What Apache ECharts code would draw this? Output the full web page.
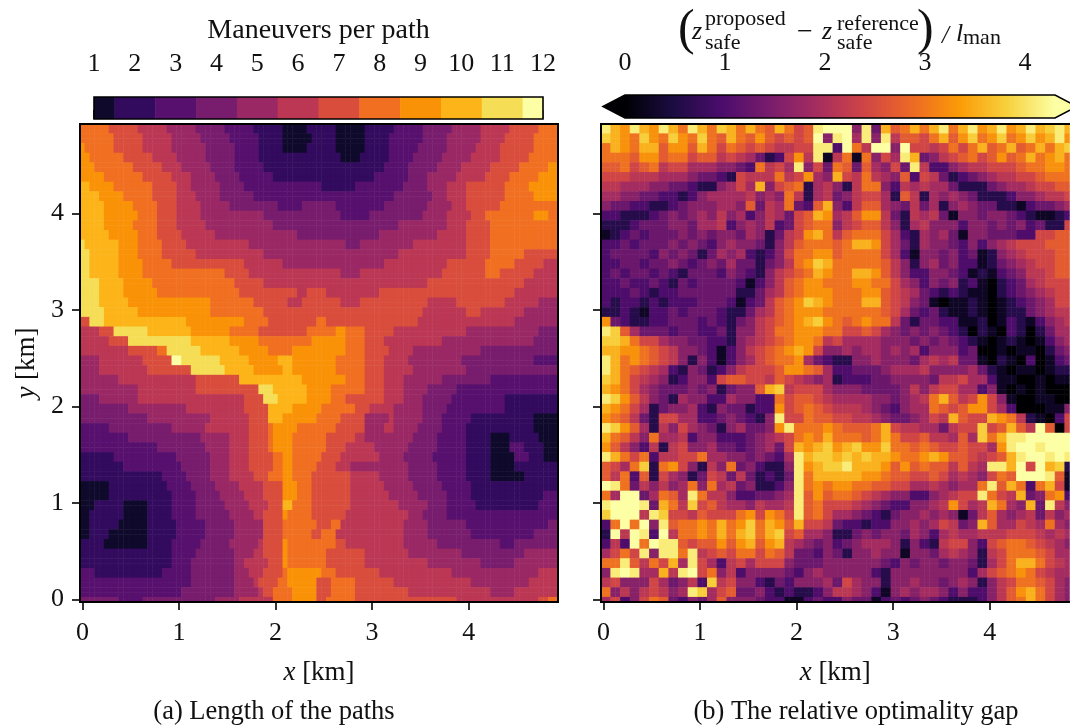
<!DOCTYPE html>
<html><head><meta charset="utf-8">
<style>html,body{margin:0;padding:0;background:#fff;overflow:hidden}#c{width:1070px;height:728px}</style>
<script src="https://cdn.jsdelivr.net/npm/echarts@6/dist/echarts.min.js"></script>
</head><body><div id="c"></div>
<script>
// (a) maneuvers per path: each row top to bottom, runs of level:endCell
const pathRuns = [
"8:6 7:12 6:18 5:24 4:30 3:36 2:42 1:47 2:53 1:59 2:65 3:71 4:77 5:83 6:89 7:95 8:99",
"8:7 7:13 6:19 5:25 4:31 3:37 2:42 1:48 2:53 1:59 2:64 3:71 4:76 5:83 6:88 7:94 8:99",
"9:1 8:7 7:13 6:19 5:26 4:32 3:37 2:42 1:47 2:53 1:59 2:64 3:70 4:76 5:82 6:87 7:94 8:99",
"9:2 8:9 7:15 6:20 5:26 4:32 3:37 2:54 1:58 2:64 3:69 4:75 5:81 6:87 7:93 8:99",
"9:3 8:11 7:17 6:21 5:27 4:32 3:38 2:63 3:68 4:74 5:79 6:85 7:91 8:97 9:99",
"9:5 8:13 7:19 6:23 5:28 4:33 3:40 2:61 3:68 4:72 5:78 6:84 7:89 8:95 9:99",
"a:2 9:7 8:15 7:20 6:23 5:29 4:34 3:50 2:57 3:67 4:72 5:76 6:80 7:88 8:93 9:99",
"a:4 9:9 8:15 7:20 6:24 5:29 4:36 3:65 4:73 5:76 6:80 7:88 8:94 9:99",
"a:5 9:11 8:16 7:20 6:25 5:31 4:41 3:46 4:53 3:63 4:72 5:77 6:80 7:87 8:99",
"a:5 9:12 8:16 7:20 6:25 5:38 4:54 3:60 4:71 5:76 6:81 7:84 8:94 9:97 8:99",
"a:5 9:11 8:16 7:20 6:26 5:40 4:66 5:76 6:80 7:85 8:99",
"a:6 9:12 8:16 7:21 6:28 5:45 4:62 5:74 6:80 7:85 8:99",
"b:1 a:8 9:12 8:17 7:22 6:35 5:55 4:58 5:69 6:80 7:85 8:99",
"b:2 a:8 9:12 8:17 7:24 6:38 5:66 6:80 7:85 8:92 7:99",
"b:2 a:8 9:13 8:19 7:34 6:42 5:63 6:76 7:84 8:90 7:96 6:99",
"b:2 a:8 9:13 8:30 7:35 6:54 5:58 6:75 7:84 8:87 7:94 6:99",
"b:4 a:9 9:15 8:32 7:38 6:72 7:92 6:99",
"b:4 a:9 9:16 8:33 7:45 6:47 7:51 6:62 7:90 6:99",
"b:4 a:10 9:27 8:36 7:43 6:46 7:54 6:58 7:72 6:78 7:88 6:95 5:99",
"b:5 a:12 9:27 8:38 7:71 6:80 7:83 6:92 5:99",
"7:2 b:5 a:22 9:34 8:39 7:49 8:51 7:70 6:90 5:99",
"6:4 7:7 b:14 a:23 9:31 8:37 7:47 8:53 9:55 8:59 7:65 6:80 5:95 4:99",
"6:6 7:10 b:23 a:31 9:37 8:48 9:55 8:59 7:63 6:75 5:94 4:99",
"6:10 7:16 8:18 b:25 a:33 9:39 8:44 9:55 8:59 7:64 6:69 5:83 4:99",
"5:4 6:13 7:19 c:21 b:29 a:35 9:41 a:44 9:53 8:59 7:63 6:68 5:79 4:94 3:99",
"5:4 6:14 7:23 b:30 a:36 9:42 a:44 9:53 8:59 7:63 6:69 5:80 4:99",
"5:8 6:24 7:33 a:46 9:55 8:59 7:63 6:67 5:75 4:85 3:99",
"5:12 6:24 7:37 b:40 a:47 9:52 8:59 7:63 6:67 5:72 4:78 3:99",
"4:4 5:12 6:34 7:38 b:41 a:47 9:52 8:55 7:63 6:67 5:71 4:77 3:88 2:99",
"4:10 5:22 6:34 7:39 a:44 9:50 8:57 7:60 6:65 5:71 4:76 3:88 2:99",
"4:14 5:27 6:35 7:39 a:42 9:49 8:54 7:59 5:64 6:65 5:71 4:75 3:81 2:94 1:99",
"3:6 4:19 5:26 6:35 7:39 8:40 9:45 8:53 7:59 5:63 6:65 5:70 4:75 3:80 2:94 1:99",
"3:10 4:25 5:31 6:35 7:39 8:40 9:44 8:51 7:57 6:59 5:69 4:74 3:80 2:85 1:89 2:95 1:99",
"3:16 4:26 5:31 6:35 7:39 8:40 9:44 8:51 7:55 6:61 5:68 4:74 3:80 2:85 1:89 3:92 2:96 1:99",
"2:7 3:20 4:27 5:31 6:35 7:40 8:42 9:44 8:50 7:54 6:62 5:67 4:73 3:80 2:85 1:90 3:93 2:96 1:99",
"2:9 3:21 4:27 5:31 6:35 7:40 8:42 9:44 8:49 7:53 6:56 5:68 4:74 3:80 2:85 1:90 2:99",
"2:17 3:22 4:27 5:31 6:36 7:39 8:42 9:44 8:48 7:56 6:62 5:68 4:74 3:80 2:85 1:92 2:99",
"1:6 2:18 3:23 4:28 5:33 6:38 7:42 9:45 8:48 7:56 6:63 5:69 4:75 3:81 2:99",
"1:6 2:19 3:24 4:29 5:34 6:38 7:42 9:45 8:48 7:56 6:64 5:70 4:76 3:81 2:96 3:99",
"1:3 2:9 1:14 2:19 3:24 4:30 5:35 6:39 7:42 a:44 8:48 7:56 6:66 5:72 4:76 3:82 2:95 3:99",
"1:2 2:9 1:14 2:19 3:24 4:31 5:36 6:38 7:42 9:43 8:48 7:55 6:68 5:71 4:76 3:99",
"1:2 2:8 1:14 2:20 3:26 4:32 5:38 7:42 8:49 7:52 8:54 6:67 5:72 4:80 3:97 4:99",
"1:2 2:6 1:14 2:20 3:26 4:32 5:38 7:42 8:48 7:50 8:53 6:67 5:72 4:81 3:94 4:99",
"2:5 1:14 2:19 3:25 4:31 5:37 6:38 7:42 9:43 8:53 7:55 6:67 5:74 4:87 3:90 4:99",
"2:19 3:24 4:32 5:36 6:38 7:42 9:43 8:51 7:59 6:68 5:79 4:92 5:99",
"2:19 3:23 4:32 5:34 6:39 7:42 9:43 8:51 7:59 6:72 5:83 4:90 5:99",
"3:3 2:17 3:23 4:32 5:35 6:38 7:42 8:43 9:50 8:53 7:62 6:77 5:95 6:99",
"3:23 4:32 5:36 6:37 7:41 8:43 9:49 7:52 8:57 7:65 6:81 5:93 6:99",
"3:21 4:32 5:37 6:38 7:40 8:44 9:49 7:52 8:57 7:68 6:85 5:90 6:99",
"4:8 3:13 4:28 5:33 6:40 8:44 9:49 7:51 8:57 7:78 6:95 7:97 8:99"
];
// (b) optimality gap: rows top to bottom, one digit per two cells; digit → value by gapLevels
const gapLevels = [0,0.25,0.6,1.0,1.3,1.6,1.9,2.15,2.4,2.7,2.95,3.25,3.55,3.8,4.1,4.35];
const gapRows = [
"ecbecbecaecadcaca9ca89ef ff5e4c9acaceacebcebcecdec",
"dcbadbadbada9ca9b98989f5 ef6e5e7998ac9bdabdabdbceb",
"acbacc9bb9ca8a9898778 8ee3 fa7ff5f8878a8ac9ac9acacda",
"aaa9bb9aa899787642 38b7e1 7a1a586ec45789a89b9acabca",
"99a89a788666554 3a786e584 a9496584e73356778889aabba",
"888777666544328777a78b65 c87a7659387423456778 89aaa",
"776665544322568 6c589a267 527aa53767664222456678899",
"665544332356666756 5a7267 4578862972656542223556778",
"544332234555665 94 76a439c 5379965474625654422134456",
"332223454565756 357 64 89cb 679bb74276741554554321123",
"222344455466735657348 9aa 5789975267555355454534228",
"12343444545455465 2478bca 79aaa86326564155444338899",
"334344454543565542 579aaa 9accb8642655435356788 8999",
"344443545424656323 58aabb 9aaaa86315545341256788899",
"334434454345464 42457abdc aaaaa97525645331245678899",
"343443432444354325 789acb aaccb97533554312134577899",
"33433432434444313579abba aabbaa86535452310234678 88",
"333432334444442246 79abbb aaabb98764323211023456788",
"323323233344 4313479abdcb aaacc98754101121012345688",
"2232133434443 22467 9abbba aaaaa98643 42112101224 5677",
"b43223344 43432457 89abcdb a9abaa74244331 1201321 3567",
"ed96444344334 255 78aabbba a889865454543202 1032 02466",
"ddca886554433 25 6789abba7 866665554 5454321012101 356",
"ccbba98755431 357 89abcb85 5656656563555340 0101102 45",
"ecaba98752531 3568 9aab643 2255655546767441 0210301 34",
"eca98763254235 7888 9bba96 33444566675555642101101 22",
"dca87652355389 9887 98765 6 233344555 5477866 31 1001 011",
"cba86544 454524 559cd78886 55544445757886635 10101000",
"edb97542655336 55 33a89987 6666554567ac978 b851001100",
"cba8624556325 44233b89a98 77765435 66a989bb863000115",
"ba9742886633 454325e88a99 8877654456 87c988cba72103 8",
"edb96275865425 64 45bea aab a9 99ac877 664788d89c97f908",
"ca975a66735533 3456 78aba c aaa9aca88 977696dacee fffff",
"b975372785564 4345 648cbcd bcdbbdaa9a98898 86beff efff",
"eca8a37788a66 5545 436ecdd cdcdccbaabcb99878 9cef fefe",
"986ad2ab85275 a4532 25ebcd decccb9b9a99797 6eecf8fcd2",
"97a392865248 747423 24eacc cccbba99889 8676 58a9fffe91",
"fea475756a5a 674522 35eaba bbaa99886 6765 66ae9ca3ac81",
"a6ff46a96ea7 75334 456e9b9 aa987655335 678 8ea87c45ab3",
"efffe4ca7d89 7665 7667e9a8 887654335567 b867ca65c4e75",
"dfff7ed8879 888ab8ba8e9a8 6654324556565 147965 674756",
"3afaf5e9aaba cabdacb9c887 433233 556568745 c966876a65",
"2f7fe3f7aaba cacdacd89665 224545 546536766 7778887676",
"373fafee9899 b9bc9bc76545 3456665 25 3278853 89aa98765",
"68a8e5eeae78 98aa8a9744354 2556 5 5 1 5 5 4 6 7 6 5 2 7 8 a a a 9 8 6 6",
"aae97a8c6e86 3786888 5444 5 55555 43 5 4 5 5 4 5 5 4 2 6 8 a c c a 8 7 6",
"5efe66c7ef8a 5735555 4356 5 55553 25 5 5 5 5 5 5 5 3 6 8 9 a b a 8 7 6",
"785558645 73d 785 5 3 2 4 3 5 5 5 6 4 8 6 5 5 2 5 5 6 5 5 4 5 6 5 2 5 7 8 a a 9 8 6 5",
"a57578756 ed68 9 4 4 5 3 2 3 2 2 3 5 7 7 6 5 3 1 5 6 5 6 6 5 3 5 3 3 5 7 9 b c a 8 6 5",
"6835 8a943 5 4 6 9 5 5 5 4 3 3 1 1 3 4 3 3 5 4 4 1 3 4 3 4 5 4 3 2 2 2 3 5 7 9 a c a 8 6 5"
];
const pathLevels = [1,2,3,4,5,6,7,8,9,10,11,12];
const pathColors = ['#0f0a2c','#320a5e','#57106e','#781c6d','#9a2865','#bb3754','#d94d3d','#f06f21','#fa9207','#fcb419','#f5de55','#fcffa4'];
const inferno = ['#000004','#1b0c41','#4a0c6b','#781c6d','#a52c60','#cf4446','#ed6925','#fb9b06','#f7d13d','#fcffa4'];
const kmTicks = [0,1,2,3,4];
const gapTicks = [0,1,2,3,4];
const gapMax = 4.3, gapExtend = 0.22;
const CELLS = 99, GAP_COLS = 97, PER_KM = 20;

const F = 'Liberation Serif';
const cats = n => Array.from({length:n},(_,i)=>i);
const pathData = [];
for (let t=0;t<CELLS;t++){
  const runs = pathRuns[Math.min(t>>1,pathRuns.length-1)].split(' ').map(s=>s.split(':'));
  let k=0;
  for (let f=0;f<CELLS;f++){
    while(k<runs.length-1 && f>=+runs[k][1]) k++;
    pathData.push([f,CELLS-1-t,parseInt(runs[k][0],16)]);
  }
}
const gapData = [];
for (let t=0;t<CELLS;t++){
  const row = gapRows[Math.min(t>>1,gapRows.length-1)].replace(/\s/g,'');
  for (let f=0;f<GAP_COLS;f++){
    const ch = row[Math.min(f>>1,row.length-1)];
    gapData.push([f,CELLS-1-t,gapLevels[parseInt(ch,16)]]);
  }
}
const pathSegments = pathLevels.map(v=>[Math.max(1,v-0.5),Math.min(12,v+0.5),v]);

const tickLabel = {fontFamily:F,fontSize:26,color:'#111'};
const nameStyle = {fontFamily:F,fontSize:27,color:'#111',rich:{i:{fontFamily:F,fontSize:27,fontStyle:'italic',color:'#111'}}};
const kmX = (idx,labels)=>({type:'category',gridIndex:idx,data:cats(labels),position:'bottom',
  axisLine:{show:false},axisTick:{show:true,alignWithLabel:true,interval:PER_KM-1,length:8,lineStyle:{color:'#000',width:1.6}},
  axisLabel:{show:true,interval:PER_KM-1,margin:18,formatter:v=>String(kmTicks[v/PER_KM]),...tickLabel},splitLine:{show:false},
  name:'{i|x} [km]',nameLocation:'middle',nameGap:57,nameTextStyle:nameStyle});
const kmY = (idx,showLabel)=>({type:'category',gridIndex:idx,data:cats(CELLS),
  axisLine:{show:false},axisTick:{show:true,alignWithLabel:true,interval:PER_KM-1,length:8,lineStyle:{color:'#000',width:1.6}},
  axisLabel:{show:showLabel,interval:PER_KM-1,margin:16,formatter:v=>String(kmTicks[v/PER_KM]),...tickLabel},splitLine:{show:false},
  ...(showLabel?{name:'{i|y} [km]',nameLocation:'middle',nameGap:40,nameRotate:90,nameTextStyle:nameStyle}:{})});

const txt=(x,y,text,size,extra)=>({type:'text',x,y,silent:true,z:50,style:Object.assign({text,fontFamily:F,fontSize:size,fill:'#111',verticalAlign:'middle'},extra||{})});

const option = {
  animation:false,
  backgroundColor:'#fff',
  grid:[
    {left:80,top:124,width:478,height:478},
    {left:601,top:124,width:468.5,height:478},
    {left:94,top:97,width:449,height:22},
    {left:603,top:95,width:468,height:23}
  ],
  xAxis:[
    kmX(0,CELLS),
    kmX(1,GAP_COLS),
    {type:'value',gridIndex:2,min:1,max:12,position:'top',
      axisLine:{show:false},splitLine:{show:false},
      axisTick:{show:true,length:9,customValues:pathLevels,lineStyle:{color:'#000',width:1.6}},
      axisLabel:{show:true,margin:20,customValues:pathLevels,...tickLabel},
      name:'Maneuvers per path',nameLocation:'middle',nameGap:52,nameTextStyle:{fontFamily:F,fontSize:28,color:'#111'}},
    {type:'value',gridIndex:3,min:-gapExtend,max:4.45,position:'top',
      axisLine:{show:false},splitLine:{show:false},
      axisTick:{show:true,length:10,customValues:gapTicks,lineStyle:{color:'#000',width:1.6}},
      axisLabel:{show:true,margin:19,customValues:gapTicks,...tickLabel}}
  ],
  yAxis:[
    kmY(0,true),
    kmY(1,false),
    {type:'value',gridIndex:2,min:0,max:1,show:false},
    {type:'value',gridIndex:3,min:0,max:1,show:false}
  ],
  visualMap:[
    {type:'continuous',show:false,seriesIndex:0,dimension:2,min:1,max:12,inRange:{color:pathColors}},
    {type:'continuous',show:false,seriesIndex:1,dimension:2,min:0,max:gapMax,inRange:{color:inferno}}
  ],
  series:[
    {type:'heatmap',xAxisIndex:0,yAxisIndex:0,data:pathData,progressive:0,silent:true,emphasis:{disabled:true}},
    {type:'heatmap',xAxisIndex:1,yAxisIndex:1,data:gapData,progressive:0,silent:true,emphasis:{disabled:true}},
    {type:'custom',xAxisIndex:2,yAxisIndex:2,silent:true,data:pathSegments,clip:false,
      encode:{x:[0,1]},
      renderItem:(p,api)=>{
        const a=api.coord([api.value(0),1]),b=api.coord([api.value(1),0]);
        return {type:'rect',shape:{x:a[0],y:a[1],width:b[0]-a[0]+0.5,height:b[1]-a[1]},style:{fill:pathColors[api.value(2)-1]}};
      }},
    {type:'custom',xAxisIndex:3,yAxisIndex:3,silent:true,data:[[0,gapMax]],clip:false,
      encode:{x:[0,1]},
      renderItem:(p,api)=>{
        const lo=api.value(0),hi=api.value(1);
        const c=(x,y)=>api.coord([x,y]);
        const p0=c(lo,1),p1=c(hi,0);
        const grad=new echarts.graphic.LinearGradient(p0[0],0,p1[0],0,inferno.map((col,i)=>({offset:i/(inferno.length-1),color:col})),true);
        return {type:'polygon',shape:{points:[c(lo-gapExtend,0.5),c(lo,1),c(hi,1),c(hi+gapExtend,0.5),c(hi,0),c(lo,0)]},
          style:{fill:grad,stroke:'#000',lineWidth:1.6}};
      }}
  ],
  graphic:{elements:[
    {type:'rect',z:40,silent:true,shape:{x:80,y:124,width:478,height:478},style:{fill:'none',stroke:'#000',lineWidth:2}},
    {type:'polyline',z:40,silent:true,shape:{points:[[1071,124],[601,124],[601,602],[1071,602]]},style:{fill:'none',stroke:'#000',lineWidth:2}},
    {type:'rect',z:40,silent:true,shape:{x:94,y:97,width:449,height:22},style:{fill:'none',stroke:'#000',lineWidth:1.6}},
    txt(678,31,'(',50),
    txt(692,32,'z',26,{fontStyle:'italic'}),
    txt(705,19,'proposed',22),
    txt(705,43,'safe',22),
    txt(797,33,'−',28),
    txt(822,32,'z',26,{fontStyle:'italic'}),
    txt(837,24,'reference',22),
    txt(837,43,'safe',22),
    txt(917,31,')',50),
    txt(942,36,'/',25,{fontStyle:'italic'}),
    txt(956,34,'l',26,{fontStyle:'italic'}),
    txt(963,38,'man',22),
    txt(274,712,'(a) Length of the paths',26.5,{align:'center'}),
    txt(856,712,'(b) The relative optimality gap',26.5,{align:'center'})
  ]}
};
const chart = echarts.init(document.getElementById('c'),null,{renderer:'canvas',width:1070,height:728});
chart.setOption(option);
</script></body></html>
